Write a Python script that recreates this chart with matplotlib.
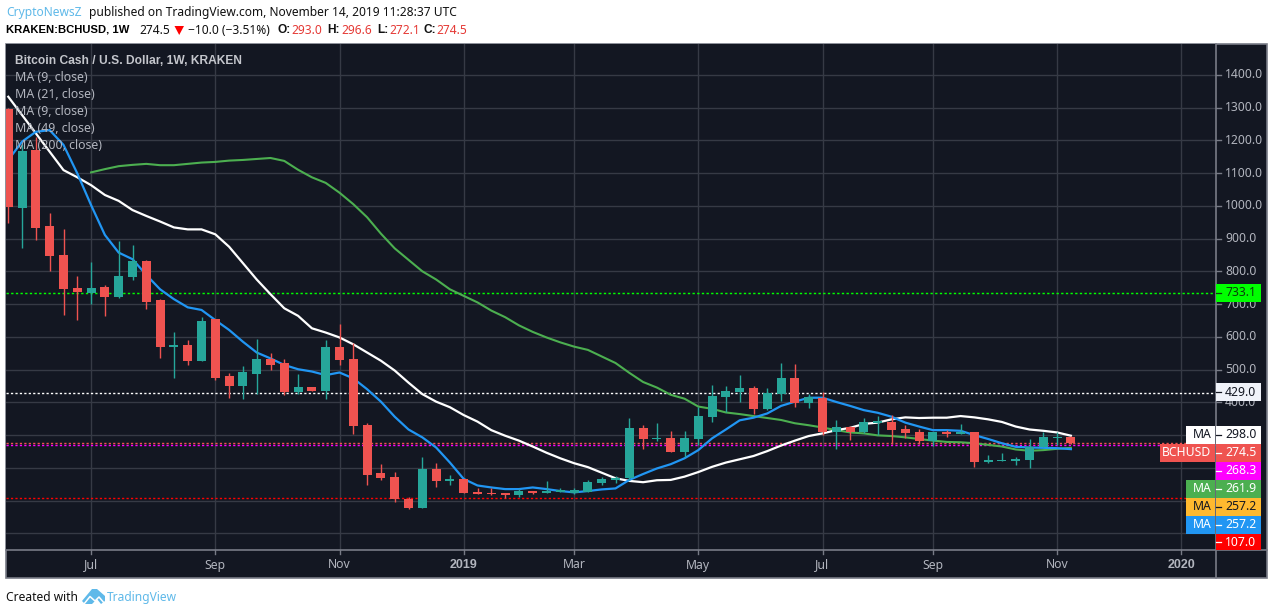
# -*- coding: utf-8 -*-
import numpy as np
import matplotlib
matplotlib.use('Agg')
import matplotlib.pyplot as plt
from matplotlib.patches import Rectangle, Polygon

plt.rcParams['font.family'] = ['Noto Sans', 'DejaVu Sans']

# weekly BCHUSD candles
opens = [1296, 994, 1170, 938, 850, 749, 733, 752, 722, 783, 831, 712, 568, 575, 526, 654,
         480, 450, 486, 532, 520, 431, 447, 435, 569, 532, 331, 184, 172, 105, 77, 196,
         160, 166, 126, 123, 123, 117, 129, 123, 126, 123, 126, 153, 163, 169, 321, 288,
         291, 248, 288, 355, 416, 431, 444, 380, 425, 474, 398, 413, 309, 325, 309, 337,
         340, 318, 309, 282, 309, 303, 309, 218, 221, 221, 224, 263, 291, 293]
highs = [1300, 1190, 1211, 977, 929, 786, 828, 758, 892, 880, 834, 715, 615, 590, 660, 655,
         489, 511, 593, 551, 532, 486, 447, 590, 639, 581, 337, 212, 187, 111, 233, 215,
         178, 166, 138, 138, 123, 135, 129, 160, 138, 138, 163, 172, 175, 352, 331, 337,
         312, 312, 386, 453, 450, 483, 450, 444, 520, 517, 425, 431, 346, 328, 352, 358,
         361, 331, 318, 309, 315, 334, 309, 239, 245, 233, 288, 309, 309, 297]
lows = [948, 872, 896, 801, 667, 651, 700, 664, 718, 773, 685, 535, 473, 514, 526, 468,
        413, 410, 425, 499, 422, 425, 435, 410, 514, 303, 148, 163, 96, 74, 77, 141,
        148, 123, 120, 117, 108, 111, 120, 123, 126, 120, 126, 147, 153, 163, 257, 282,
        248, 233, 270, 340, 370, 401, 364, 376, 404, 386, 383, 300, 257, 285, 306, 300,
        273, 291, 273, 267, 294, 303, 202, 215, 221, 209, 199, 263, 270, 272]
closes = [997, 1167, 933, 848, 746, 738, 749, 722, 786, 831, 706, 569, 574, 526, 648, 474,
          450, 492, 532, 514, 431, 447, 435, 569, 529, 328, 178, 169, 105, 77, 196, 160,
          166, 123, 120, 120, 117, 129, 123, 129, 132, 132, 157, 166, 169, 321, 288, 291,
          248, 291, 358, 419, 434, 444, 380, 428, 474, 398, 416, 309, 325, 309, 340, 343,
          315, 306, 282, 309, 303, 309, 218, 224, 224, 227, 263, 294, 294, 274.5]

ma_white = [1333, 1277, 1221, 1165, 1109, 1087, 1063, 1033, 1015, 987, 969, 952, 934, 928, 928, 913,
            875, 825, 775, 730, 687, 664, 626, 613, 598, 577, 552, 527, 497, 460, 425, 402,
            385, 361, 341, 315, 298, 283, 265, 246, 229, 214, 202, 185, 168, 160, 156, 162,
            163, 173, 187, 203, 216, 226, 236, 251, 268, 283, 297, 305, 315, 322, 334, 338,
            348, 354, 352, 353, 353, 358, 354, 348, 340, 326, 317, 313, 308, 298]
ma_blue = [1140, 1196, 1226, 1231, 1186, 1099, 1002, 911, 857, 837, 789, 745, 715, 690, 682, 651,
           621, 585, 552, 534, 514, 501, 494, 483, 491, 473, 440, 402, 356, 317, 293, 262,
           216, 166, 146, 140, 135, 135, 140, 135, 129, 125, 129, 134, 137, 163, 181, 198,
           211, 229, 254, 290, 317, 345, 353, 366, 389, 402, 414, 414, 401, 389, 376, 368,
           356, 338, 326, 315, 315, 313, 300, 288, 275, 264, 262, 261, 260, 257]
ma_green_start = 6
ma_green = [1102, 1112, 1121, 1125, 1128, 1124, 1124, 1128, 1132, 1134, 1138,
            1140, 1143, 1146, 1137, 1110, 1087, 1070, 1040, 1005, 965, 915, 870, 835, 800, 775,
            745, 725, 705, 680, 660, 635, 615, 598, 583, 570, 560, 540, 520, 490, 462, 445,
            423, 411, 387, 380, 369, 364, 358, 352, 346, 336, 330, 323, 315, 308, 305, 299,
            297, 293, 288, 283, 279, 278, 275, 270, 265, 256, 252, 254, 258, 261]

# month ticks, in weeks from the first candle
date_ticks = [6, 15, 24, 33, 41, 50, 59, 67, 76, 85]
date_labels = ['Jul', 'Sep', 'Nov', '2019', 'Mar', 'May', 'Jul', 'Sep', 'Nov', '2020']
price_ticks = [400, 500, 600, 700, 800, 900, 1000, 1100, 1200, 1300, 1400]
grid_prices = [0, 100, 200, 300] + price_ticks

line_green = 733.1
line_white = 429.0
line_last = 274.5
line_magenta = 268.3
line_red = 107.0

legend_rows = ['MA (9, close)', 'MA (21, close)', 'MA (9, close)', 'MA (49, close)', 'MA (200, close)']

BG = '#131722'
GRID = '#363a45'
AXIS = '#787b86'
TXT = '#b2b5be'
UP = '#26a69a'
DOWN = '#ef5350'
BOLD = ['Liberation Sans', 'DejaVu Sans']

fig = plt.figure(figsize=(12.74, 6.15), dpi=100, facecolor='white')

# overlay in pixels for the frame, header and price tags
ov = fig.add_axes([0, 0, 1, 1], zorder=3)
ov.set_xlim(0, 1274)
ov.set_ylim(615, 0)
ov.axis('off')
ov.patch.set_alpha(0)

# chart panel behind the main axes
under = fig.add_axes([0, 0, 1, 1], zorder=0)
under.set_xlim(0, 1274)
under.set_ylim(615, 0)
under.axis('off')
under.add_patch(Rectangle((6, 43.5), 1261, 534.5, fc=BG, ec=AXIS, lw=1.2))

ax = fig.add_axes([6 / 1274, 1 - 550 / 615, 1210 / 1274, 506.5 / 615], zorder=1)
ax.set_facecolor(BG)
ax.set_xlim((6 - 8.3) / 13.8, (1216 - 8.3) / 13.8)
ax.set_ylim((533.3 - 550) / 0.3275, (533.3 - 43.5) / 0.3275)
for s in ax.spines.values():
    s.set_visible(False)
ax.set_xticks(date_ticks)
ax.set_xticklabels([])
ax.set_yticks(price_ticks)
ax.set_yticklabels([])
ax.tick_params(left=False, bottom=False)
for p in grid_prices:
    ax.axhline(p, color=GRID, lw=1.0, zorder=1)
for t in date_ticks:
    ax.axvline(t, color=GRID, lw=1.0, zorder=1)

# level lines
dash = (0, (1.6, 1.6))
ax.axhline(line_green, color='#00ff00', lw=1.05, ls=dash, zorder=2)
ax.axhline(line_white, color='white', lw=1.0, ls=dash, zorder=2)
ax.axhline(line_last, color=DOWN, lw=1.0, ls=dash, zorder=2)
ax.axhline(line_magenta, color='#ff00ff', lw=1.0, ls=dash, zorder=2)
ax.axhline(line_red, color='#ff0000', lw=1.0, ls=dash, zorder=2)

# moving averages
weeks = np.arange(len(closes))
ax.plot(weeks[ma_green_start:], ma_green, color='#4caf50', lw=1.5, zorder=3)
ax.plot(weeks, ma_white, color='white', lw=1.6, zorder=3)
ax.plot(weeks, ma_blue, color='#2196f3', lw=1.6, zorder=3)

# candles go over the averages
o, h, l, c = map(np.array, (opens, highs, lows, closes))
cols = [UP if c[i] >= o[i] else DOWN for i in weeks]
ax.vlines(weeks, l, h, colors=cols, lw=1.0, zorder=4)
ax.bar(weeks, np.abs(c - o), bottom=np.minimum(o, c), width=0.65, color=cols, lw=0, zorder=5)

# header
hdr = 8.65
ov.text(6, 12.5, 'CryptoNewsZ', color='#5fb9e9', fontsize=hdr, va='center')
ov.text(89, 12.5, 'published on TradingView.com, November 14, 2019 11:28:37 UTC', color='#111111', fontsize=hdr, va='center')
ov.text(6, 30, 'KRAKEN:BCHUSD, 1W', color='black', fontsize=8.1, va='center', fontweight='bold', family=BOLD)
ov.text(139, 30, '274.5', color='#111111', fontsize=hdr, va='center')
ov.add_patch(Polygon([[174.5, 26], [184, 26], [179.2, 35]], fc='#ff0000', ec='none'))
ov.text(188, 30, '\u221210.0 (\u22123.51%)', color='#111111', fontsize=hdr, va='center')
for x, s in [(277, 'O:'), (327, 'H:'), (377, 'L:'), (424, 'C:')]:
    ov.text(x, 30, s, color='#111111', fontsize=8.6, va='center', fontweight='bold', family=BOLD)
for x, s in [(291, '293.0'), (341, '296.6'), (389, '272.1'), (436, '274.5')]:
    ov.text(x, 30, s, color='#e53935', fontsize=hdr, va='center')

# legend on the chart
ov.text(15, 60.5, 'Bitcoin Cash / U.S. Dollar, 1W, KRAKEN', color='#c4c6cc', fontsize=8.65, va='center',
        fontweight='bold', family=BOLD)
for i, s in enumerate(legend_rows):
    ov.text(15, 77.5 + i * 17, s, color=TXT, fontsize=8.9, va='center')

# axis labels
for p in price_ticks:
    y = 533.3 - p * 0.3275
    ov.plot([1216, 1221], [y, y], color=AXIS, lw=1)
    ov.text(1225, y, '%.1f' % p, color=TXT, fontsize=8.8, va='center')
ov.plot([1216, 1216], [43.5, 578], color=AXIS, lw=1.2)
ov.plot([6, 1267], [550, 550], color=AXIS, lw=1.2)
for t, s in zip(date_ticks, date_labels):
    x = 8.3 + t * 13.8
    ov.plot([x, x], [550, 553.5], color=AXIS, lw=1)
    if s.isdigit():
        ov.text(x, 565, s, color=TXT, fontsize=9, ha='center', va='center', fontweight='bold', family=BOLD)
    else:
        ov.text(x, 565, s, color=TXT, fontsize=8.8, ha='center', va='center')

# price tags: (top, bottom, colour, text colour, value, name, left edge of name box)
tags = [
    (284, 302, '#00ff00', '#0b3d0b', '733.1', None, None),
    (383, 401, '#f0f3fa', '#131722', '429.0', None, None),
    (426, 444, '#ffffff', '#131722', '298.0', 'MA', 1186),
    (444, 462, DOWN, 'white', '274.5', 'BCHUSD', 1160),
    (462, 480, '#ff00ff', 'white', '268.3', None, None),
    (480, 498, '#4caf50', 'white', '261.9', 'MA', 1186),
    (498, 516, '#ffb92f', '#131722', '257.2', 'MA', 1186),
    (516, 534, '#2196f3', 'white', '257.2', 'MA', 1186),
    (534, 550, '#ff0000', 'white', '107.0', None, None),
]
for top, bot, col, tc, val, name, left in tags:
    ov.add_patch(Rectangle((1216, top), 45, bot - top, fc=col, ec='none', zorder=4))
    ov.plot([1216, 1221], [(top + bot) / 2] * 2, color=tc, lw=0.9, zorder=5)
    ov.text(1225, (top + bot) / 2, val, color=tc, fontsize=8.8, va='center', zorder=5)
    if name:
        ov.add_patch(Rectangle((left, top), 1215 - left, bot - top, fc=col, ec='none', zorder=4))
        ov.text(1211.5, (top + bot) / 2, name, color=tc, fontsize=8.8, ha='right', va='center', zorder=5)

# footer with the little cloud logo
ov.text(6, 597.5, 'Created with', color='#111111', fontsize=hdr, va='center')
ov.add_patch(Polygon([[82, 601], [92, 589], [97, 589], [105, 596], [105, 601], [101, 604],
                      [97, 599], [92, 604], [88, 604], [85, 604]], fc='#5fb9e9', ec='none'))
ov.plot([84, 90, 95, 99, 105], [604, 596.5, 601, 597, 604], color='white', lw=1.1)
ov.text(107, 597.5, 'TradingView', color='#5fb9e9', fontsize=hdr, va='center')

fig.savefig('out.png', dpi=100, facecolor='white')
